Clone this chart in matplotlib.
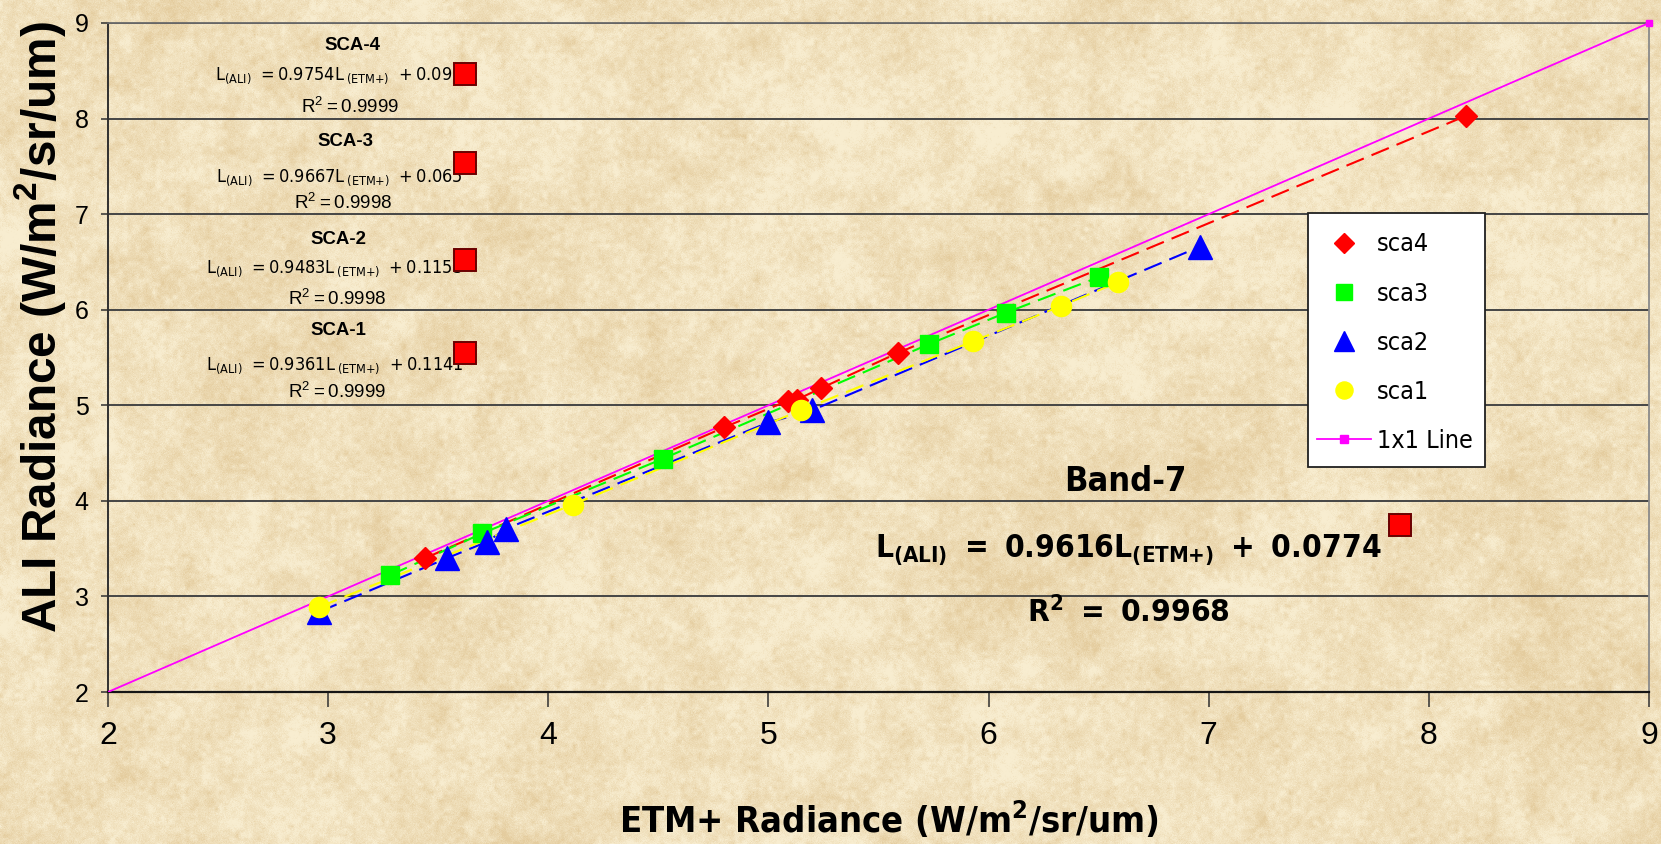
import numpy as np
import matplotlib
matplotlib.use("Agg")
import matplotlib.pyplot as plt
from matplotlib import font_manager
from matplotlib.font_manager import FontProperties
from matplotlib.lines import Line2D
from matplotlib.patches import Rectangle

# ---- measured radiances (ETM+ on x, ALI on y) for each SCA ----
sca4_x = [3.44, 4.80, 5.09, 5.13, 5.24, 5.59, 8.17]
sca4_y = [3.40, 4.77, 5.05, 5.06, 5.18, 5.55, 8.03]
sca3_x = [3.28, 3.70, 4.52, 5.73, 6.08, 6.50]
sca3_y = [3.22, 3.66, 4.44, 5.64, 5.97, 6.34]
sca2_x = [2.96, 3.54, 3.72, 3.81, 5.00, 5.20, 6.96]
sca2_y = [2.84, 3.40, 3.57, 3.71, 4.82, 4.95, 6.66]
sca1_x = [2.96, 4.11, 5.15, 5.93, 6.33, 6.59]
sca1_y = [2.89, 3.96, 4.95, 5.67, 6.04, 6.29]
one_x = [2, 9]
one_y = [2, 9]

series_labels = ["sca4", "sca3", "sca2", "sca1", "1x1 Line"]
x_ticks = [2, 3, 4, 5, 6, 7, 8, 9]
y_ticks = [2, 3, 4, 5, 6, 7, 8, 9]

# per-SCA regression labels
sca_titles = ["SCA-4", "SCA-3", "SCA-2", "SCA-1"]
sca_slopes = ["0.9754", "0.9667", "0.9483", "0.9361"]
sca_offsets = ["0.09", "0.065", "0.1155", "0.1141"]
sca_r2 = ["0.9999", "0.9998", "0.9998", "0.9999"]
band_title = "Band-7"
band_slope = "0.9616"
band_offset = "0.0774"
band_r2 = "0.9968"

W, H = 1661, 844
PX = 100 / 72.0  # pixels per point at 100 dpi
plt.rcParams["font.family"] = ["Liberation Sans", "DejaVu Sans"]


def pick_condensed(bold):
    """Find a narrow/condensed sans face; fall back to Liberation Sans."""
    cond = {"condensed", "semi-condensed", "extra-condensed", "ultra-condensed"}
    best = None
    for f in font_manager.fontManager.ttflist:
        narrow = ("Narrow" in f.name or "Condensed" in f.name or f.stretch in cond)
        if not narrow or f.style != "normal":
            continue
        w = f.weight if isinstance(f.weight, int) else {"bold": 700, "normal": 400,
                                                          "regular": 400}.get(str(f.weight), 400)
        if bold and w < 600 or (not bold and w >= 600):
            continue
        score = 0
        if "Liberation Sans Narrow" in f.name:
            score += 100
        if "Sans" in f.name or "Roboto" in f.name:
            score += 10
        if f.stretch == "condensed" or "Narrow" in f.name:
            score += 5
        if "Mono" in f.name or "Serif" in f.name:
            score -= 50
        if best is None or score > best[0]:
            best = (score, f.fname)
    if best is None or best[0] < 0:
        return FontProperties(family="Liberation Sans", weight="bold" if bold else "normal")
    return FontProperties(fname=best[1])


NARROW_BOLD = pick_condensed(True)
NARROW_REG = pick_condensed(False)

fig = plt.figure(figsize=(W / 100, H / 100), dpi=100)
renderer = fig.canvas.get_renderer()


def fitted(s, target, prop, size=20.0, vertical=False):
    """Font size (pt) at which string s spans target pixels."""
    t = fig.text(0, 0, s, fontproperties=prop, fontsize=size,
                 rotation=90 if vertical else 0)
    bb = t.get_window_extent(renderer)
    t.remove()
    return size * target / (bb.height if vertical else bb.width)


# parchment background
rng = np.random.default_rng(11)


def upsample(a, h, w):
    ys = np.linspace(0, a.shape[0] - 1, h)
    xs = np.linspace(0, a.shape[1] - 1, w)
    y0 = np.floor(ys).astype(int)
    x0 = np.floor(xs).astype(int)
    y1 = np.minimum(y0 + 1, a.shape[0] - 1)
    x1 = np.minimum(x0 + 1, a.shape[1] - 1)
    fy = (ys - y0)[:, None]
    fx = (xs - x0)[None, :]
    return (a[y0][:, x0] * (1 - fy) * (1 - fx) + a[y1][:, x0] * fy * (1 - fx)
            + a[y0][:, x1] * (1 - fy) * fx + a[y1][:, x1] * fy * fx)


tex = (0.35 * upsample(rng.standard_normal((8, 16)), H, W)
       + 0.35 * upsample(rng.standard_normal((40, 80)), H, W)
       + 0.35 * upsample(rng.standard_normal((200, 400)), H, W)
       + 0.22 * rng.standard_normal((H, W)))
tex = (tex - tex.mean()) / tex.std()
light = np.array([248, 237, 208]) / 255.0
dark = np.array([228, 204, 158]) / 255.0
t = np.clip(0.37 + 0.20 * tex, 0, 1)[..., None]
img = light * (1 - t) + dark * t
bg = fig.add_axes([0, 0, 1, 1], zorder=0)
bg.imshow(img, aspect="auto", interpolation="bilinear")
bg.axis("off")

ax = fig.add_axes([108 / W, 1 - 692 / H, (1649 - 108) / W, (692 - 23) / H], zorder=1)
ax.set_facecolor("none")
ax.set_xlim(2, 9)
ax.set_ylim(2, 9)
ax.set_xticks(x_ticks)
ax.set_yticks(y_ticks)
ax.yaxis.grid(True, color="#454545", lw=1.4)
ax.set_axisbelow(True)
for side, col, lw in [("left", "#303030", 1.4), ("bottom", "#151515", 1.6),
                      ("top", "#6a6a6a", 1.3), ("right", "#8a8a8a", 1.3)]:
    ax.spines[side].set_color(col)
    ax.spines[side].set_linewidth(lw)
ax.tick_params(axis="x", labelsize=23, length=11, width=1.1, pad=10, color="#303030")
ax.tick_params(axis="y", labelsize=18, length=5, width=1.1, pad=9, color="#303030")

series = [
    (sca4_x, sca4_y, "#FF0000", "D", 11.5),
    (sca3_x, sca3_y, "#00FF00", "s", 13.5),
    (sca2_x, sca2_y, "#0000FF", "^", 17),
    (sca1_x, sca1_y, "#FFFF00", "o", 14.5),
]
dash = (0, (9, 4))
for xs, ys, col, mk, ms in series:
    ax.plot(xs, ys, color=col, lw=1.5, ls=dash, zorder=3)
ax.plot(one_x, one_y, color="#FF00FF", lw=1.3, zorder=3.5)
ax.plot(one_x[-1:], one_y[-1:], "s", color="#FF00FF", ms=5, clip_on=False, zorder=3.5)
for xs, ys, col, mk, ms in series:
    ax.plot(xs, ys, ls="none", marker=mk, ms=ms, mfc=col, mec=col, zorder=4)

# legend: white box drawn separately, entries ~49 px apart
ax.add_patch(Rectangle((1308 / W, 1 - 467 / H), 177 / W, 254 / H,
                       transform=fig.transFigure, facecolor="white",
                       edgecolor="#202020", lw=1.3, clip_on=False, zorder=6.5))
leg_pt = fitted("1x1 Line", 96, NARROW_REG)
f_px = leg_pt * PX
handles = [Line2D([], [], ls="none", marker=mk, ms=ms * 0.85, mfc=col, mec=col)
           for _, _, col, mk, ms in series]
handles.append(Line2D([], [], color="#FF00FF", lw=1.3, marker="s", ms=6,
                      mfc="#FF00FF", mec="#FF00FF"))
leg_prop = NARROW_REG.copy()
leg_prop.set_size(leg_pt)
row_h = 1.17 * f_px
pad_px = 34 - row_h / 2
leg = ax.legend(handles, series_labels, loc="upper left",
                bbox_to_anchor=((1317 - pad_px) / W, 1 - 213 / H),
                bbox_transform=fig.transFigure, borderaxespad=0, frameon=False,
                prop=leg_prop, handlelength=54 / f_px, handletextpad=6 / f_px,
                borderpad=pad_px / f_px, labelspacing=(54.5 - row_h) / f_px,
                numpoints=1)
leg.set_zorder(7)


def fpos(px, py):
    return (px / W, 1 - py / H)


# per-SCA regression annotations
eq_fmt = r"$\mathregular{L_{(ALI)}\ = %sL\,_{(ETM{+})}\ + %s}$"
r2_fmt = r"$\mathregular{R^2 = %s}$"
boldp = FontProperties(family="Liberation Sans", weight="bold")
regp = FontProperties(family="Liberation Sans")
ti_pt = fitted(sca_titles[0], 56, boldp)
title_pos = [(352, 50), (345, 146), (338, 244), (338, 335)]
eq_pos = [(452, 80), (463, 182), (463, 273), (463, 370)]
r2_pos = [(350, 113), (343, 209), (337, 305), (337, 398)]
for i in range(4):
    ax.text(*fpos(*title_pos[i]), sca_titles[i], transform=fig.transFigure,
            ha="center", va="baseline", fontproperties=boldp, fontsize=ti_pt, zorder=5)
    ax.text(*fpos(*eq_pos[i]), eq_fmt % (sca_slopes[i], sca_offsets[i]),
            transform=fig.transFigure, ha="right", va="baseline",
            fontproperties=NARROW_REG, fontsize=13, zorder=5)
    ax.text(*fpos(*r2_pos[i]), r2_fmt % sca_r2[i],
            transform=fig.transFigure, ha="center", va="baseline",
            fontproperties=regp, fontsize=13.5, zorder=5)

# label marker boxes
box_x = [3.62, 3.62, 3.62, 3.62, 7.87]
box_y = [8.47, 7.53, 6.52, 5.55, 3.75]
ax.plot(box_x, box_y, ls="none", marker="s", ms=15.5, mfc="#FF0000", mec="#6a0000",
        mew=1.4, clip_on=False, zorder=6)

# overall band regression
band_eq = (r"$\mathregular{L_{(ALI)}\ =\ %sL_{(ETM{+})}\ +\ %s}$"
           % (band_slope, band_offset))
band_r2_s = r"$\mathregular{R^2\ =\ %s}$" % band_r2
ax.text(*fpos(1125, 491), band_title, transform=fig.transFigure, ha="center",
        va="baseline", fontproperties=NARROW_BOLD,
        fontsize=1.04 * fitted(band_title, 118, NARROW_BOLD), zorder=5)
ax.text(*fpos(1128, 557), band_eq, transform=fig.transFigure, ha="center",
        va="baseline", fontproperties=NARROW_BOLD,
        fontsize=1.02 * fitted(band_eq, 497, NARROW_BOLD), zorder=5)
ax.text(*fpos(1128, 622), band_r2_s, transform=fig.transFigure, ha="center",
        va="baseline", fontproperties=NARROW_BOLD,
        fontsize=1.04 * fitted(band_r2_s, 195, NARROW_BOLD), zorder=5)

# axis titles
xlab = "ETM+ Radiance (W/m$^\\mathregular{2}$/sr/um)"
ylab = "ALI Radiance (W/m$^\\mathregular{2}$/sr/um)"
ax.set_xlabel(xlab, fontproperties=NARROW_BOLD)
ax.xaxis.label.set_fontsize(fitted(xlab, 540, NARROW_BOLD))
ax.xaxis.set_label_coords((889 - 108) / 1541, (692 - 833) / 669)
ax.xaxis.label.set_va("baseline")
ax.set_ylabel(ylab, fontproperties=boldp)
ax.yaxis.label.set_fontsize(fitted(ylab, 612, boldp, vertical=True))
ax.yaxis.set_label_coords((40 - 108) / 1541, (692 - 327) / 669)
ax.yaxis.label.set_va("center")

fig.savefig("out.png", dpi=100)
